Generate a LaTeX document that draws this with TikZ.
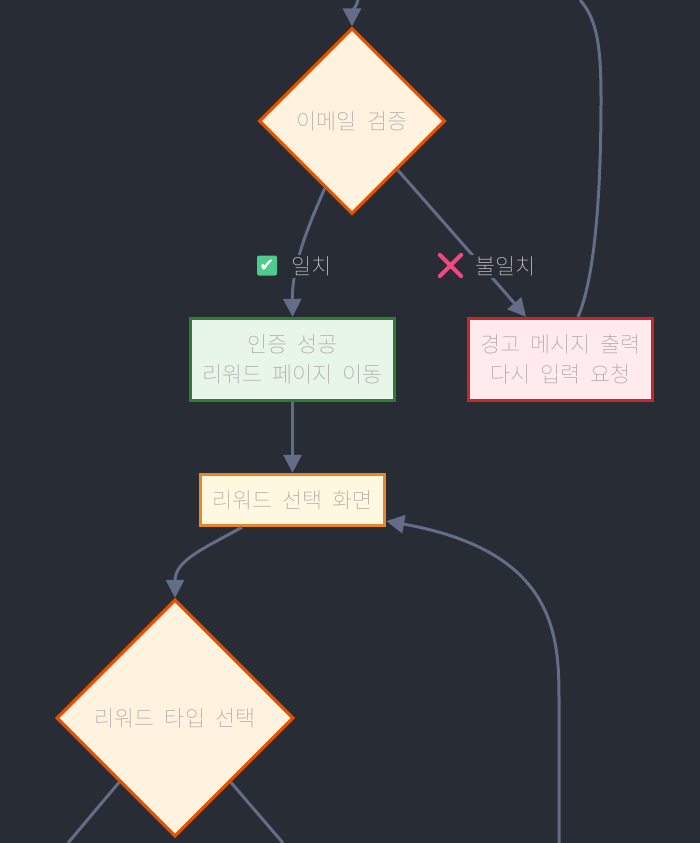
\documentclass[tikz,border=0pt]{standalone}
\usepackage{fontspec}
\usetikzlibrary{arrows.meta,shapes.geometric,shapes.misc}
\newfontfamily\krfont[WordSpace=2.1]{Noto Sans CJK KR Thin}
\newfontfamily\symfont{DejaVu Sans}
\definecolor{bgc}{HTML}{282C34}
\definecolor{linec}{HTML}{646D88}
\definecolor{txtc}{HTML}{D8D8D8}
\definecolor{boxtxt}{HTML}{A0A0A0}
\tikzset{
  x=1pt,y=-1pt,
  conn/.style={draw=linec,line width=3pt,-{Triangle[length=18pt,width=18pt,fill=linec]}},
  plainconn/.style={draw=linec,line width=3pt},
  boxbase/.style={rectangle,line width=3.4pt,inner sep=0pt,align=center,text=boxtxt,font=\krfont\fontsize{21.8}{30}\selectfont},
  okbox/.style={boxbase,draw=ForestG,fill=ForestF},
  failbox/.style={boxbase,draw=RedG,fill=RedF},
  selbox/.style={boxbase,draw=OrG,fill=OrF},
  dec/.style={diamond,aspect=1,inner sep=0pt,line width=3.2pt,draw=DecG,fill=DecF,text=boxtxt,font=\krfont\fontsize{21.8}{30}\selectfont},
  edgelabel/.style={fill=bgc,inner sep=0pt,minimum height=23pt},
  labeltext/.style={anchor=west,text=txtc,inner sep=0pt,font=\krfont\fontsize{21.8}{24}\selectfont},
}
\definecolor{ForestG}{HTML}{2E7D32}
\definecolor{ForestF}{HTML}{E8F5E9}
\definecolor{RedG}{HTML}{C62828}
\definecolor{RedF}{HTML}{FFEBEE}
\definecolor{OrG}{HTML}{E8862A}
\definecolor{OrF}{HTML}{FFF8E1}
\definecolor{DecG}{HTML}{E65100}
\definecolor{DecF}{HTML}{FFF3E0}
\definecolor{okemoji}{HTML}{4FCB8D}
\definecolor{xemoji}{HTML}{F4467F}
\begin{document}
\begin{tikzpicture}
\fill[bgc] (0,0) rectangle (700,843);
\useasboundingbox (0,0) rectangle (700,843);
\coordinate (topin) at (358,0);
\coordinate (loopout) at (580,0);
\coordinate (backin) at (559,843);
\coordinate (lout) at (68,843);
\coordinate (rout) at (283,843);

\node[dec,minimum width=186pt,minimum height=186pt] (d1) at (352,121) {\raisebox{-1.5pt}{이메일 검증}};
\node[okbox,minimum width=204pt,minimum height=82pt] (ok) at (292.5,359.5) {인증 성공\\리워드 페이지 이동};
\node[failbox,minimum width=184pt,minimum height=82pt] (fail) at (560.5,359.5) {경고 메시지 출력\\다시 입력 요청};
\node[selbox,minimum width=184pt,minimum height=51pt] (sel) at (292.5,500) {\raisebox{-1.5pt}{리워드 선택 화면}};
\node[dec,minimum width=237pt,minimum height=237pt] (d2) at (175,718) {\raisebox{-1.5pt}{리워드 타입 선택}};

\draw[conn] (topin) .. controls (356,8) and (352,12) .. (d1.north);
\draw[conn] (d1.248) .. controls (312,218) and (292,262) .. (ok.north);
\draw[conn] (d1.-47) .. controls (440,218) and (490,275) .. (fail.north -| 526,0);
\draw[plainconn] (fail.north -| 578,0) .. controls (594,280) and (601,200) .. (601,100) .. controls (601,50) and (598,20) .. (loopout);
\draw[conn] (ok.south) -- (sel.north);
\draw[conn] (sel.south -| 242,0) .. controls (205,548) and (175,560) .. (d2.north);
\draw[conn] (backin) -- (559,705) .. controls (559,640) and (560,552) .. (sel.east |- 0,521);
\draw[plainconn] (d2.-131) -- (lout);
\draw[plainconn] (d2.-49) -- (rout);

\node[edgelabel,minimum width=76pt] (lab1) at (295,266) {};
\node[rectangle,fill=okemoji,rounded corners=2pt,minimum size=20pt,inner sep=0pt,text=white,font=\symfont\fontsize{18}{18}\selectfont] (e1) at (267,265.5) {✔};
\node[labeltext] (t1) at (291,266) {일치};
\node[edgelabel,minimum width=96pt] (lab2) at (487,266) {};
\node[cross out,draw=xemoji,line width=4.2pt,line cap=round,inner sep=0pt,minimum size=17pt] (e2) at (450.5,265.5) {};
\node[labeltext] (t2) at (475,266) {불일치};
\end{tikzpicture}
\end{document}
